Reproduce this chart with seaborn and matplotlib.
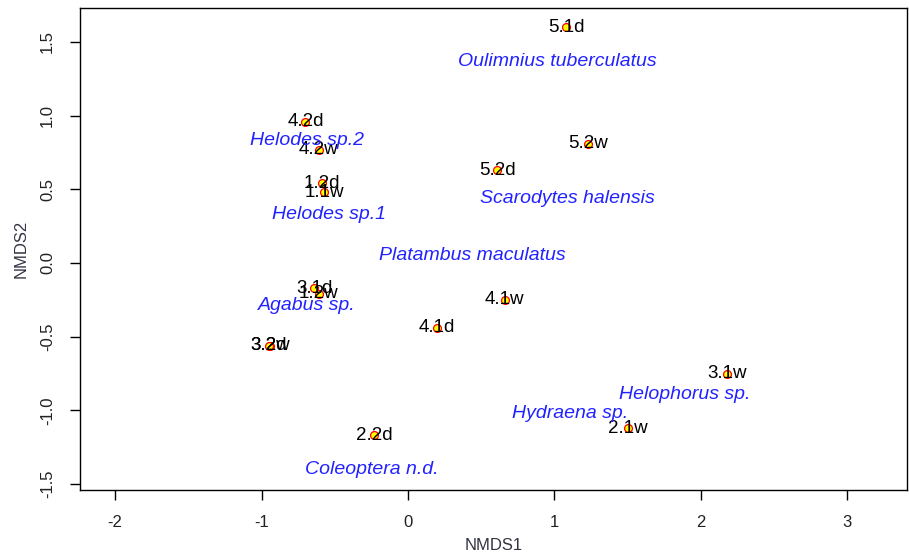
import matplotlib
matplotlib.use("Agg")
import matplotlib.pyplot as plt
import seaborn as sns
import pandas as pd

site_labels = ["5.1d", "4.2d", "4.2w", "5.2w", "5.2d", "1.2d", "1.1w", "3.1d", "1.2w",
               "4.1w", "4.1d", "3.2w", "3.2d", "3.1w", "2.1w", "2.2d"]
site_x = [1.08, -0.70, -0.61, 1.23, 0.61, -0.59, -0.57, -0.64, -0.61,
          0.66, 0.20, -0.94, -0.95, 2.18, 1.50, -0.23]
site_y = [1.60, 0.96, 0.77, 0.81, 0.63, 0.54, 0.48, -0.17, -0.21,
          -0.25, -0.44, -0.56, -0.56, -0.75, -1.12, -1.17]

species_labels = ["Oulimnius tuberculatus", "Helodes sp.2", "Scarodytes halensis", "Helodes sp.1",
                  "Platambus maculatus", "Agabus sp.", "Helophorus sp.", "Hydraena sp.",
                  "Coleoptera n.d."]
species_x = [1.02, -0.69, 1.09, -0.54, 0.44, -0.69, 1.89, 1.11, -0.25]
species_y = [1.37, 0.83, 0.44, 0.33, 0.05, -0.29, -0.89, -1.02, -1.40]

x_ticks = [-2, -1, 0, 1, 2, 3]
y_ticks = [-1.5, -1.0, -0.5, 0.0, 0.5, 1.0, 1.5]

sns.set_style("ticks")
plt.rcParams["font.family"] = ["Liberation Sans", "DejaVu Sans"]

fig = plt.figure(figsize=(9.09, 5.53), dpi=100)
ax = fig.add_axes([0.088, 0.114, 0.910, 0.8715])

df = pd.DataFrame({"NMDS1": site_x, "NMDS2": site_y, "label": site_labels})
sns.scatterplot(data=df, x="NMDS1", y="NMDS2", ax=ax, s=32, color="yellow",
                edgecolor="red", linewidth=0.9, zorder=3)

for lab, x, y in zip(site_labels, site_x, site_y):
    ax.text(x, y, lab, ha="center", va="center", fontsize=13.5, color="black", zorder=4)

for lab, x, y in zip(species_labels, species_x, species_y):
    ax.text(x, y, lab, ha="center", va="center", fontsize=14, color="#2222ff",
            style="italic", zorder=5)

ax.set_xlim(-2.24, 3.41)
ax.set_ylim(-1.54, 1.73)
ax.set_xticks(x_ticks)
ax.set_xticklabels([str(t) for t in x_ticks])
ax.set_yticks(y_ticks)
ax.set_yticklabels([f"{t:.1f}" for t in y_ticks], rotation=90, va="center")
ax.tick_params(axis="both", direction="out", length=7, width=1, labelsize=12,
               pad=11, color="black", labelcolor="#222222")
for sp in ax.spines.values():
    sp.set_visible(True)
    sp.set_color("black")
    sp.set_linewidth(1)
ax.set_xlabel("NMDS1", fontsize=12, color="#333344", labelpad=6)
ax.set_ylabel("NMDS2", fontsize=12, color="#333344", labelpad=8)

fig.savefig("out.png", dpi=100)
